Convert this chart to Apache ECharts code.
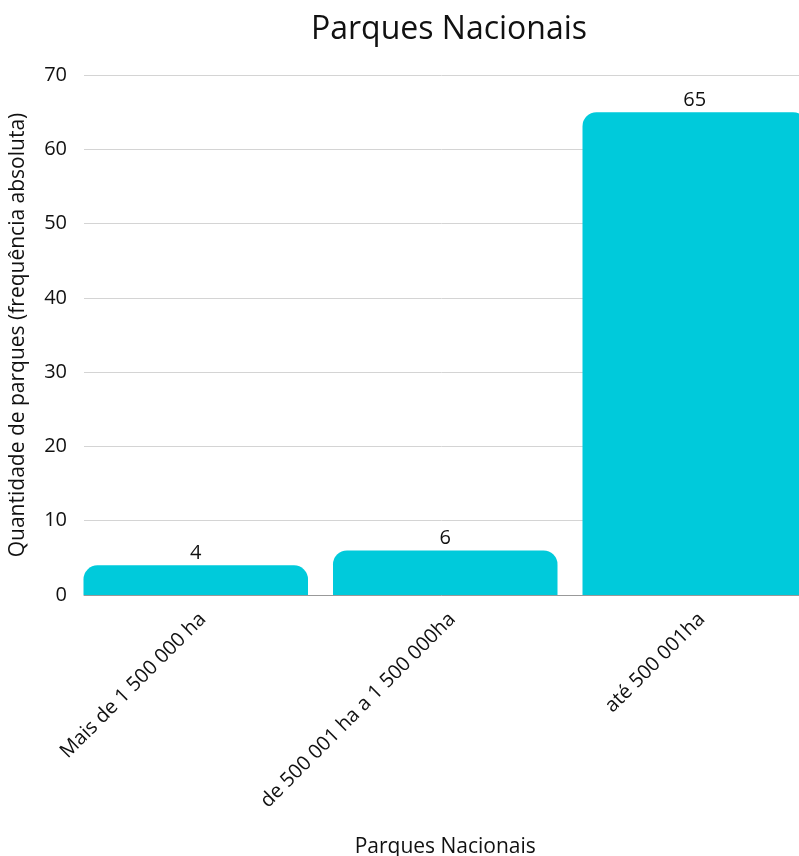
<!DOCTYPE html>
<html>
<head>
<meta charset="utf-8">
<script src="https://cdn.jsdelivr.net/npm/echarts@6/dist/echarts.min.js"></script>
<style>
html,body{margin:0;padding:0;background:#fff;}
#chart{width:799px;height:856px;}
</style>
</head>
<body>
<div id="chart"></div>
<script>
const chartTitle = 'Parques Nacionais';
const categories = ['Mais de 1 500 000 ha', 'de 500 001 ha a 1 500 000ha', 'até 500 001ha'];
const values = [4, 6, 65];
const yTitle = 'Quantidade de parques (frequência absoluta)';
const xTitle = 'Parques Nacionais';
const yMin = 0, yMax = 70, yStep = 10;

const FONT = '"Open Sans", sans-serif';
const chart = echarts.init(document.getElementById('chart'), null, {renderer: 'canvas'});
chart.setOption({
  animation: false,
  backgroundColor: '#fff',
  textStyle: {fontFamily: FONT},
  title: {
    text: chartTitle, left: 444, top: 9, textAlign: 'center',
    textStyle: {fontFamily: FONT, fontSize: 32, fontWeight: 'normal', color: '#111'}
  },
  grid: [
    {left: 84, top: 75, width: 715, height: 520, containLabel: false, outerBoundsMode: 'none'},
    {left: 71, top: 75, width: 748.5, height: 520, containLabel: false, outerBoundsMode: 'none'}
  ],
  xAxis: [
    {gridIndex: 0, type: 'category', data: categories,
     axisLine: {show: true, lineStyle: {color: '#999', width: 1}},
     axisTick: {show: false}, axisLabel: {show: false}, splitLine: {show: false}},
    {gridIndex: 1, type: 'category', data: categories,
     axisLine: {show: false}, axisTick: {show: false},
     axisLabel: {rotate: 45, fontSize: 20, color: '#111', margin: 14, interval: 0,
                 verticalAlign: 'top', fontFamily: FONT},
     name: xTitle, nameLocation: 'middle', nameGap: 242,
     nameTextStyle: {fontSize: 21, color: '#111', fontFamily: FONT}}
  ],
  yAxis: [
    {gridIndex: 0, type: 'value', min: yMin, max: yMax, interval: yStep,
     axisLine: {show: false}, axisTick: {show: false},
     axisLabel: {fontSize: 20, color: '#111', margin: 17, fontFamily: FONT},
     splitLine: {show: true, lineStyle: {color: '#d4d4d4', width: 1}},
     name: yTitle, nameLocation: 'middle', nameGap: 55,
     nameTextStyle: {fontSize: 21, color: '#111', fontFamily: FONT}},
    {gridIndex: 1, type: 'value', min: yMin, max: yMax, interval: yStep, show: false,
     splitLine: {show: false}}
  ],
  series: [{
    type: 'bar', xAxisIndex: 1, yAxisIndex: 1, data: values,
    barWidth: 224.5,
    itemStyle: {color: '#00CADB', borderRadius: [14, 14, 0, 0]},
    label: {show: true, position: 'top', distance: 2, fontSize: 20, color: '#111', fontFamily: FONT}
  }]
});
</script>
</body>
</html>
